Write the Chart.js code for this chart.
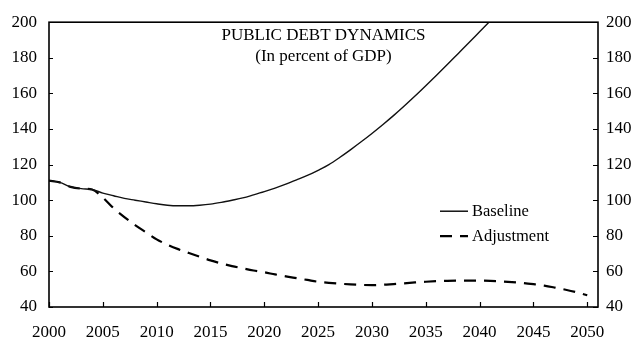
<!DOCTYPE html>
<html>
<head>
<meta charset="utf-8">
<script src="https://cdn.jsdelivr.net/npm/chart.js@4.4.0/dist/chart.umd.min.js"></script>
<style>
  html, body { margin: 0; padding: 0; background: #fff; }
  #wrap { width: 635px; height: 339px; }
</style>
</head>
<body>
<div id="wrap"><canvas id="myChart" width="635" height="339"></canvas></div>
<script>
// Years on the x axis (one value per year)
const years = [];
for (let y = 2000; y <= 2050; y++) years.push(y);

// Baseline debt ratio, 2000-2041 (runs off the top of the chart after 2040)
const baseline = [111, 110, 107.5, 106.5, 106, 104, 102.5, 101, 100, 99,
                  98, 97.2, 96.9, 96.9, 97.2, 97.8, 98.8, 100, 101.3, 103,
                  104.8, 106.8, 109, 111.4, 113.9, 116.8, 120, 124, 128.3, 132.8,
                  137.5, 142.4, 147.5, 152.9, 158.5, 164.3, 170.2, 176.2, 182.3, 188.4,
                  194.6, 200.8];

// Adjustment scenario, 2000-2050
const adjustment = [111, 110, 107.5, 106.5, 106, 101.5, 95.5, 90.5, 86, 82,
                    78, 75, 72.5, 70.3, 68.2, 66.2, 64.5, 63, 61.7, 60.5,
                    59.5, 58.3, 57.2, 56.2, 55.2, 54.2, 53.6, 53.1, 52.7, 52.4,
                    52.3, 52.5, 52.9, 53.3, 53.8, 54.2, 54.5, 54.7, 54.8, 54.8,
                    54.8, 54.7, 54.4, 54, 53.5, 52.8, 52, 50.9, 49.7, 48.3,
                    46.6];

const xTicks = [2000, 2005, 2010, 2015, 2020, 2025, 2030, 2035, 2040, 2045, 2050];
const yTicks = [40, 60, 80, 100, 120, 140, 160, 180, 200];

const seriesNames = ['Baseline', 'Adjustment'];
const titleLines = ['PUBLIC DEBT DYNAMICS', '(In percent of GDP)'];

const serif = '"Liberation Serif", "Times New Roman", serif';

function toPoints(vals) {
    return vals.map((v, i) => ({ x: years[i], y: v }));
}

// Frame, inward tick marks, title and legend drawn on top of the chart
const decorations = {
    id: 'decorations',
    afterDraw(chart) {
        const ctx = chart.ctx;
        const a = chart.chartArea;
        const xs = chart.scales.x, ys = chart.scales.y;
        ctx.save();
        ctx.strokeStyle = '#000';
        ctx.lineWidth = 1.6;
        ctx.strokeRect(a.left, a.top, a.right - a.left, a.bottom - a.top);

        // inward ticks
        ctx.lineWidth = 1.2;
        ctx.beginPath();
        xTicks.forEach(v => {
            const px = Math.round(xs.getPixelForValue(v)) + 0.5;
            ctx.moveTo(px, a.bottom);
            ctx.lineTo(px, a.bottom - 5);
        });
        yTicks.forEach(v => {
            const py = Math.round(ys.getPixelForValue(v)) + 0.5;
            ctx.moveTo(a.left, py);
            ctx.lineTo(a.left + 4, py);
            ctx.moveTo(a.right, py);
            ctx.lineTo(a.right - 5, py);
        });
        ctx.stroke();

        // title
        ctx.fillStyle = '#000';
        ctx.textAlign = 'center';
        ctx.textBaseline = 'middle';
        ctx.font = '17px ' + serif;
        const cx = (a.left + a.right) / 2;
        ctx.fillText(titleLines[0], cx, a.top + 13);
        ctx.fillText(titleLines[1], cx, a.top + 34);

        // legend
        const lx = a.left + 391, ly = a.top + 189;
        ctx.textAlign = 'left';
        ctx.font = '16.5px ' + serif;
        chart.data.datasets.forEach((ds, i) => {
            const y = ly + i * 25;
            ctx.strokeStyle = '#000';
            ctx.lineWidth = ds.borderWidth;
            ctx.setLineDash(ds.borderDash || []);
            ctx.beginPath();
            ctx.moveTo(lx, y);
            ctx.lineTo(lx + 28, y);
            ctx.stroke();
            ctx.setLineDash([]);
            ctx.fillText(ds.label, lx + 32, y);
        });
        ctx.restore();
    }
};

const ctx = document.getElementById('myChart').getContext('2d');
const myChart = new Chart(ctx, {
    type: 'line',
    data: {
        datasets: [{
            label: seriesNames[0],
            data: toPoints(baseline),
            borderColor: '#111',
            borderWidth: 1.4,
            pointRadius: 0,
            cubicInterpolationMode: 'monotone',
            fill: false,
            yAxisID: 'y'
        }, {
            label: seriesNames[1],
            data: toPoints(adjustment),
            borderColor: '#000',
            borderWidth: 2.2,
            borderDash: [12, 8],
            pointRadius: 0,
            cubicInterpolationMode: 'monotone',
            fill: false,
            yAxisID: 'y'
        }]
    },
    options: {
        responsive: false,
        animation: false,
        layout: { padding: { top: 20, left: 0, right: 0, bottom: 0 } },
        plugins: {
            legend: { display: false },
            title: { display: false },
            tooltip: { enabled: false }
        },
        scales: {
            x: {
                type: 'linear',
                min: 2000,
                max: 2051,
                afterBuildTicks: s => { s.ticks = xTicks.map(v => ({ value: v })); },
                afterFit: s => { s.height = 32; },
                grid: { display: false, drawTicks: false },
                border: { display: false },
                ticks: {
                    color: '#000',
                    padding: 15,
                    maxRotation: 0,
                    autoSkip: false,
                    font: { family: serif, size: 17 },
                    callback: v => String(v)
                }
            },
            y: {
                position: 'left',
                min: 40,
                max: 200,
                afterBuildTicks: s => { s.ticks = yTicks.map(v => ({ value: v })); },
                afterFit: s => { s.width = 49; },
                grid: { display: false, drawTicks: false },
                border: { display: false },
                ticks: {
                    color: '#000',
                    padding: 12,
                    font: { family: serif, size: 17 }
                }
            },
            y2: {
                position: 'right',
                min: 40,
                max: 200,
                afterBuildTicks: s => { s.ticks = yTicks.map(v => ({ value: v })); },
                afterFit: s => { s.width = 37; },
                grid: { display: false, drawTicks: false },
                border: { display: false },
                ticks: {
                    color: '#000',
                    padding: 8,
                    font: { family: serif, size: 17 }
                }
            }
        }
    },
    plugins: [decorations]
});
</script>
</body>
</html>
